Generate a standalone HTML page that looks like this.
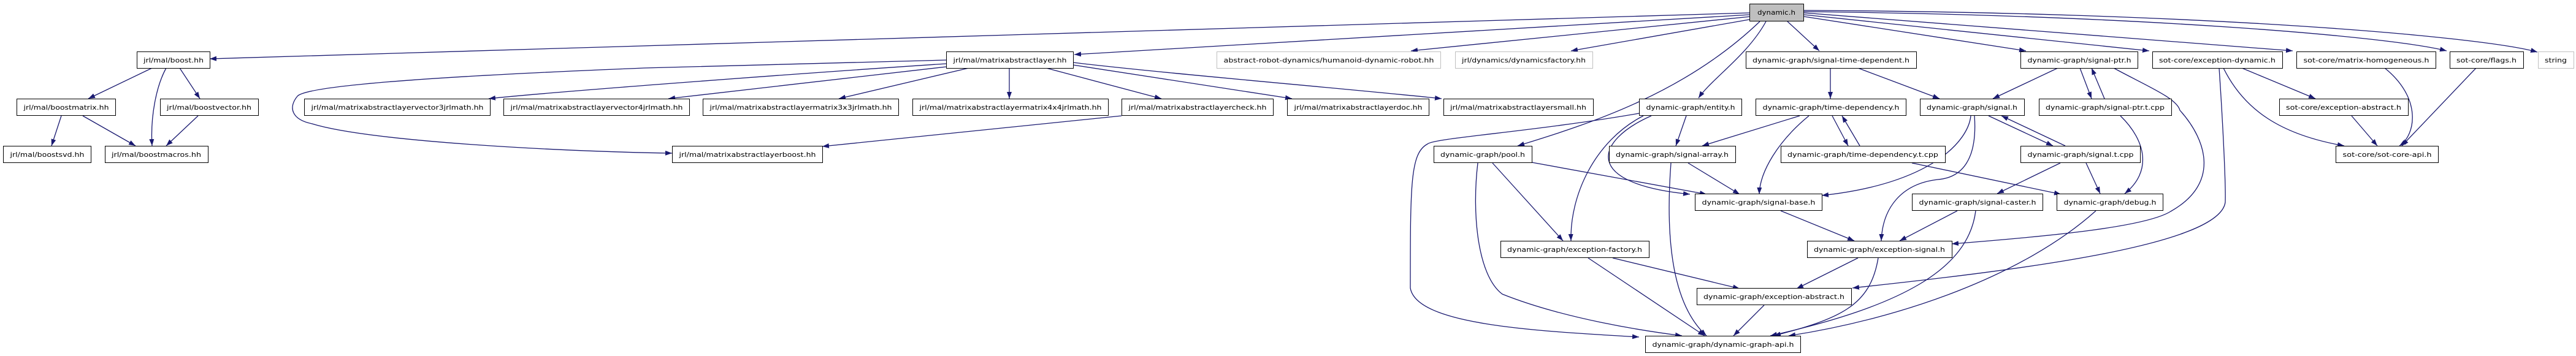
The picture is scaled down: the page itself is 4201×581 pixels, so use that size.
<!DOCTYPE html>
<html><head><meta charset="utf-8"><style>
html,body{margin:0;padding:0;background:#fff;width:4201px;height:581px;overflow:hidden}
svg{display:block}
text{font-family:"DejaVu Sans","Liberation Sans",sans-serif;font-size:11px;fill:#000}
.e{fill:none;stroke:#191970;stroke-width:1.3}
</style></head><body>
<svg width="4201" height="581" viewBox="0 0 4201 581" xmlns="http://www.w3.org/2000/svg">
<defs><marker id="a" markerUnits="userSpaceOnUse" markerWidth="12" markerHeight="8" refX="11" refY="4" orient="auto"><path d="M0,0 L11,4 L0,8 z" fill="#191970"/></marker></defs>
<g class="e" marker-end="url(#a)">
<path d="M2853,21 L342,96"/>
<path d="M2853,24 L1752,89"/>
<path d="M2855,27 L2301,83"/>
<path d="M2858,31 L2562,83"/>
<path d="M2870,35 C2750,150 2600,200 2475,238"/>
<path d="M2880,35 C2850,90 2790,130 2770,160"/>
<path d="M2915,35 L2967,83"/>
<path d="M2942,27 L3304,83"/>
<path d="M2942,24 L3505,83"/>
<path d="M2942,21 L3739,83"/>
<path d="M2942,19 C3500,25 3900,60 3990,83"/>
<path d="M2942,17 C3600,20 4050,60 4138,85"/>
<path d="M1543,98 L1050,111 C700,125 500,140 485,157 C470,175 475,195 509,202 C600,230 900,247 1096,250"/>
<path d="M1543,104 C1300,120 900,150 797,161"/>
<path d="M1543,109 L1090,161"/>
<path d="M1580,111 L1368,161"/>
<path d="M1646,111 L1646,161"/>
<path d="M1706,111 L1894,161"/>
<path d="M1750,106 L2107,161"/>
<path d="M1750,102 C1900,120 2200,145 2351,161"/>
<path d="M1829,189 L1341,239"/>
<path d="M248,111 L144,161"/>
<path d="M271,111 C255,140 245,190 248,238"/>
<path d="M293,111 L326,161"/>
<path d="M100,189 L84,238"/>
<path d="M135,189 L221,238"/>
<path d="M323,189 L271,238"/>
<path d="M2750,189 L2733,238"/>
<path d="M2693,189 C2600,230 2580,300 2756,317"/>
<path d="M2680,189 C2600,230 2560,320 2562,393"/>
<path d="M2673,185 C2500,215 2340,225 2328,235 C2300,250 2300,300 2300,470 C2310,530 2500,540 2673,550"/>
<path d="M2498,265 L2783,317"/>
<path d="M2434,266 L2549,393"/>
<path d="M2410,266 C2400,350 2410,450 2450,480 C2550,520 2680,540 2743,548"/>
<path d="M2753,266 L2837,317"/>
<path d="M2725,266 C2715,400 2730,500 2783,548"/>
<path d="M2985,111 L2985,161"/>
<path d="M3030,111 L3163,161"/>
<path d="M2935,189 L2776,238"/>
<path d="M2950,189 C2900,230 2870,280 2869,317"/>
<path d="M2988,189 L3014,238"/>
<path d="M3033,238 L3004,189"/>
<path d="M3118,266 L3361,317"/>
<path d="M3214,189 C3210,230 3150,300 2971,319"/>
<path d="M3220,189 C3225,260 3200,290 3160,293 C3100,300 3070,340 3068,393"/>
<path d="M3243,189 L3348,238"/>
<path d="M3368,238 L3264,189"/>
<path d="M3360,266 L3257,316"/>
<path d="M3402,266 L3425,316"/>
<path d="M3356,111 L3250,161"/>
<path d="M3392,111 L3411,161"/>
<path d="M3447,111 C3500,140 3550,160 3555,180 C3600,230 3620,300 3540,345 C3500,370 3350,385 3183,398"/>
<path d="M3432,161 L3411,111"/>
<path d="M3458,189 C3500,230 3510,280 3465,316"/>
<path d="M2904,344 L3024,393"/>
<path d="M3192,344 L3098,393"/>
<path d="M3222,344 C3210,440 3100,500 2887,548"/>
<path d="M3030,421 L2930,471"/>
<path d="M3063,421 C3050,500 3000,520 2893,548"/>
<path d="M2630,421 L2837,471"/>
<path d="M2590,421 L2780,548"/>
<path d="M2877,498 L2827,548"/>
<path d="M3418,344 C3300,450 3100,520 2917,548"/>
<path d="M3619,111 C3625,200 3630,300 3629,330 C3620,400 3300,440 3021,470"/>
<path d="M3656,111 L3776,161"/>
<path d="M3626,111 C3660,180 3720,220 3823,238"/>
<path d="M3835,189 L3877,238"/>
<path d="M3889,111 C3950,160 3940,220 3913,238"/>
<path d="M4038,111 L3917,238"/>
</g>
<g id="nodes"></g>
</svg>
<svg width="0" height="0"></svg>
<div style="display:none"></div>
<svg width="4201" height="581" viewBox="0 0 4201 581" xmlns="http://www.w3.org/2000/svg" style="position:absolute;left:0;top:0">
<g stroke="#000" stroke-width="1" fill="#fff">
<rect x="2853.5" y="6.5" width="88" height="28" fill="#bfbfbf"/>
<rect x="223.5" y="84.5" width="119" height="27"/>
<rect x="27.5" y="161.5" width="161" height="27"/>
<rect x="261.5" y="161.5" width="160" height="27"/>
<rect x="5.5" y="238.5" width="143" height="27"/>
<rect x="171.5" y="238.5" width="168" height="27"/>
<rect x="496.5" y="161.5" width="303" height="27"/>
<rect x="821.5" y="161.5" width="303" height="27"/>
<rect x="1543.5" y="84.5" width="207" height="27"/>
<rect x="1984.5" y="84.5" width="365" height="27" stroke="#bfbfbf"/>
<rect x="2373.5" y="84.5" width="224" height="27" stroke="#bfbfbf"/>
<rect x="1146.5" y="161.5" width="319" height="27"/>
<rect x="1488.5" y="161.5" width="319" height="27"/>
<rect x="1829.5" y="161.5" width="247" height="27"/>
<rect x="2099.5" y="161.5" width="231" height="27"/>
<rect x="1096.5" y="238.5" width="245" height="27"/>
<rect x="2847.5" y="84.5" width="278" height="27"/>
<rect x="2354.5" y="161.5" width="244" height="27"/>
<rect x="2673.5" y="161.5" width="167" height="27"/>
<rect x="2863.5" y="161.5" width="245" height="27"/>
<rect x="3131.5" y="161.5" width="170" height="27"/>
<rect x="2338.5" y="238.5" width="160" height="27"/>
<rect x="2624.5" y="238.5" width="206" height="27"/>
<rect x="2904.5" y="238.5" width="268" height="27"/>
<rect x="2764.5" y="316.5" width="207" height="27"/>
<rect x="3118.5" y="316.5" width="213" height="27"/>
<rect x="2447.5" y="393.5" width="242" height="27"/>
<rect x="2947.5" y="393.5" width="236" height="27"/>
<rect x="2767.5" y="470.5" width="252" height="27"/>
<rect x="2683.5" y="548.5" width="253" height="27"/>
<rect x="3295.5" y="84.5" width="191" height="27"/>
<rect x="3510.5" y="84.5" width="212" height="27"/>
<rect x="3745.5" y="84.5" width="227" height="27"/>
<rect x="3995.5" y="84.5" width="120" height="27"/>
<rect x="4139.5" y="84.5" width="58" height="27" stroke="#bfbfbf"/>
<rect x="3325.5" y="161.5" width="216" height="27"/>
<rect x="3717.5" y="161.5" width="210" height="27"/>
<rect x="3295.5" y="238.5" width="195" height="27"/>
<rect x="3809.5" y="238.5" width="167" height="27"/>
<rect x="3354.5" y="316.5" width="173" height="27"/>
</g>
<g text-anchor="middle" lengthAdjust="spacingAndGlyphs" style="font-family:'DejaVu Sans','Liberation Sans',sans-serif;font-size:11px">
<text x="2897" y="24" textLength="62" lengthAdjust="spacingAndGlyphs">dynamic.h</text>
<text x="283" y="102" textLength="98" lengthAdjust="spacingAndGlyphs">jrl/mal/boost.hh</text>
<text x="108" y="179" textLength="139" lengthAdjust="spacingAndGlyphs">jrl/mal/boostmatrix.hh</text>
<text x="341" y="179" textLength="138" lengthAdjust="spacingAndGlyphs">jrl/mal/boostvector.hh</text>
<text x="77" y="256" textLength="121" lengthAdjust="spacingAndGlyphs">jrl/mal/boostsvd.hh</text>
<text x="255" y="256" textLength="146" lengthAdjust="spacingAndGlyphs">jrl/mal/boostmacros.hh</text>
<text x="648" y="179" textLength="281" lengthAdjust="spacingAndGlyphs">jrl/mal/matrixabstractlayervector3jrlmath.hh</text>
<text x="973" y="179" textLength="281" lengthAdjust="spacingAndGlyphs">jrl/mal/matrixabstractlayervector4jrlmath.hh</text>
<text x="1647" y="102" textLength="185" lengthAdjust="spacingAndGlyphs">jrl/mal/matrixabstractlayer.hh</text>
<text x="2167" y="102" textLength="343" lengthAdjust="spacingAndGlyphs">abstract-robot-dynamics/humanoid-dynamic-robot.hh</text>
<text x="2485" y="102" textLength="202" lengthAdjust="spacingAndGlyphs">jrl/dynamics/dynamicsfactory.hh</text>
<text x="1306" y="179" textLength="297" lengthAdjust="spacingAndGlyphs">jrl/mal/matrixabstractlayermatrix3x3jrlmath.hh</text>
<text x="1648" y="179" textLength="297" lengthAdjust="spacingAndGlyphs">jrl/mal/matrixabstractlayermatrix4x4jrlmath.hh</text>
<text x="1953" y="179" textLength="225" lengthAdjust="spacingAndGlyphs">jrl/mal/matrixabstractlayercheck.hh</text>
<text x="2215" y="179" textLength="209" lengthAdjust="spacingAndGlyphs">jrl/mal/matrixabstractlayerdoc.hh</text>
<text x="1219" y="256" textLength="223" lengthAdjust="spacingAndGlyphs">jrl/mal/matrixabstractlayerboost.hh</text>
<text x="2986" y="102" textLength="256" lengthAdjust="spacingAndGlyphs">dynamic-graph/signal-time-dependent.h</text>
<text x="2476" y="179" textLength="222" lengthAdjust="spacingAndGlyphs">jrl/mal/matrixabstractlayersmall.hh</text>
<text x="2757" y="179" textLength="145" lengthAdjust="spacingAndGlyphs">dynamic-graph/entity.h</text>
<text x="2986" y="179" textLength="223" lengthAdjust="spacingAndGlyphs">dynamic-graph/time-dependency.h</text>
<text x="3216" y="179" textLength="148" lengthAdjust="spacingAndGlyphs">dynamic-graph/signal.h</text>
<text x="2418" y="256" textLength="138" lengthAdjust="spacingAndGlyphs">dynamic-graph/pool.h</text>
<text x="2727" y="256" textLength="184" lengthAdjust="spacingAndGlyphs">dynamic-graph/signal-array.h</text>
<text x="3038" y="256" textLength="246" lengthAdjust="spacingAndGlyphs">dynamic-graph/time-dependency.t.cpp</text>
<text x="2868" y="334" textLength="185" lengthAdjust="spacingAndGlyphs">dynamic-graph/signal-base.h</text>
<text x="3225" y="334" textLength="191" lengthAdjust="spacingAndGlyphs">dynamic-graph/signal-caster.h</text>
<text x="2568" y="411" textLength="220" lengthAdjust="spacingAndGlyphs">dynamic-graph/exception-factory.h</text>
<text x="3065" y="411" textLength="214" lengthAdjust="spacingAndGlyphs">dynamic-graph/exception-signal.h</text>
<text x="2893" y="488" textLength="230" lengthAdjust="spacingAndGlyphs">dynamic-graph/exception-abstract.h</text>
<text x="2810" y="566" textLength="231" lengthAdjust="spacingAndGlyphs">dynamic-graph/dynamic-graph-api.h</text>
<text x="3391" y="102" textLength="169" lengthAdjust="spacingAndGlyphs">dynamic-graph/signal-ptr.h</text>
<text x="3616" y="102" textLength="190" lengthAdjust="spacingAndGlyphs">sot-core/exception-dynamic.h</text>
<text x="3859" y="102" textLength="205" lengthAdjust="spacingAndGlyphs">sot-core/matrix-homogeneous.h</text>
<text x="4055" y="102" textLength="98" lengthAdjust="spacingAndGlyphs">sot-core/flags.h</text>
<text x="4168" y="102" textLength="36" lengthAdjust="spacingAndGlyphs">string</text>
<text x="3433" y="179" textLength="194" lengthAdjust="spacingAndGlyphs">dynamic-graph/signal-ptr.t.cpp</text>
<text x="3822" y="179" textLength="188" lengthAdjust="spacingAndGlyphs">sot-core/exception-abstract.h</text>
<text x="3393" y="256" textLength="173" lengthAdjust="spacingAndGlyphs">dynamic-graph/signal.t.cpp</text>
<text x="3893" y="256" textLength="145" lengthAdjust="spacingAndGlyphs">sot-core/sot-core-api.h</text>
<text x="3441" y="334" textLength="151" lengthAdjust="spacingAndGlyphs">dynamic-graph/debug.h</text>
</g>
</svg>
</body></html>
